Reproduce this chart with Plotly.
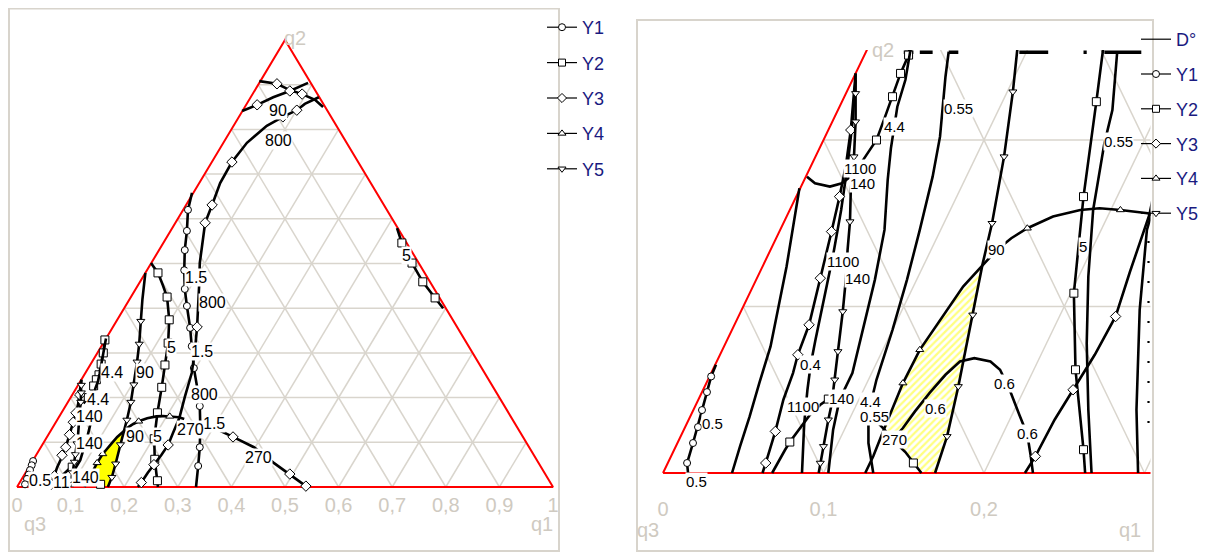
import plotly.graph_objects as go

FONT = "Liberation Sans, Arial, sans-serif"
GRAY = "#cfcac1"
NAVY = "#1a1a80"

# ---------------- data: contour lines (x = position on the 0..1 base scale, y = q2) -------------
Y1_15_X = [0.3265, 0.319, 0.317, 0.313, 0.312, 0.313, 0.317, 0.323, 0.326, 0.330, 0.336, 0.341, 0.342, 0.341, 0.338, 0.334]
Y1_15_Y = [0.658, 0.620, 0.573, 0.530, 0.485, 0.443, 0.405, 0.356, 0.315, 0.266, 0.224, 0.181, 0.134, 0.089, 0.047, 0.0]
Y1_15_M = [1, 2, 3, 4, 5, 6, 7, 8, 9, 11, 13, 14]

Y1_05_X = [0.033, 0.030, 0.0274, 0.0243, 0.0218, 0.0187, 0.015, 0.0156]
Y1_05_Y = [0.065, 0.058, 0.0486, 0.0378, 0.0276, 0.018, 0.006, 0.0]
Y1_05_M = [1, 2, 3, 4, 5, 6]

Y2_5A_X = [0.250, 0.263, 0.272, 0.280, 0.284, 0.282, 0.276, 0.274, 0.270, 0.262, 0.256, 0.257, 0.262, 0.263]
Y2_5A_Y = [0.501, 0.479, 0.452, 0.425, 0.374, 0.322, 0.273, 0.253, 0.223, 0.166, 0.108, 0.062, 0.014, 0.0]
Y2_5A_M = [1, 3, 4, 5, 6, 8, 9, 10, 11, 12]

Y2_5B_X = [0.709, 0.718, 0.737, 0.757, 0.780, 0.795]
Y2_5B_Y = [0.579, 0.546, 0.501, 0.459, 0.423, 0.400]
Y2_5B_M = [1, 2, 3, 4]

Y2_44_X = [0.164, 0.161, 0.157, 0.153, 0.148, 0.143, 0.138, 0.133, 0.128, 0.124]
Y2_44_Y = [0.329, 0.300, 0.275, 0.251, 0.240, 0.226, 0.213, 0.200, 0.193, 0.187]
Y2_44_M = [0, 1, 2, 3, 4, 5, 7]

Y2_270_X = [0.161, 0.156, 0.151, 0.1445, 0.138, 0.132, 0.126]
Y2_270_Y = [0.0, 0.006, 0.0126, 0.0186, 0.026, 0.032, 0.037]
Y2_270_M = [1]

Y2_LOW_X = [0.068, 0.0717, 0.076, 0.079, 0.0854, 0.0916, 0.098, 0.103, 0.1065]
Y2_LOW_Y = [0.0, 0.0066, 0.0138, 0.0186, 0.027, 0.035, 0.041, 0.0444, 0.046]
Y2_LOW_M = [3, 7]

Y3_90A_X = [0.452, 0.485, 0.509, 0.532, 0.556, 0.571]
Y3_90A_Y = [0.908, 0.902, 0.888, 0.879, 0.866, 0.850]
Y3_90A_M = [1, 3]

Y3_90B_X = [0.420, 0.448, 0.478, 0.509, 0.543]
Y3_90B_Y = [0.841, 0.855, 0.872, 0.886, 0.904]
Y3_90B_M = [1, 3]

Y3_800_X = [0.563, 0.537, 0.522, 0.496, 0.466, 0.429, 0.401, 0.379, 0.364, 0.351, 0.345, 0.341, 0.340,
            0.338, 0.336, 0.332, 0.326, 0.313, 0.303, 0.291, 0.282, 0.269, 0.2555, 0.244, 0.232, 0.2255]
Y3_800_Y = [0.872, 0.857, 0.843, 0.828, 0.808, 0.770, 0.727, 0.680, 0.631, 0.591, 0.537, 0.501, 0.456,
            0.412, 0.358, 0.306, 0.255, 0.201, 0.155, 0.121, 0.094, 0.071, 0.050, 0.032, 0.010, 0.0]
Y3_800_M = [2, 3, 6, 8, 9, 14, 20, 22, 24]

Y3_270_X = [0.332, 0.368, 0.403, 0.442, 0.479, 0.509, 0.539]
Y3_270_Y = [0.139, 0.132, 0.112, 0.089, 0.054, 0.029, 0.002]
Y3_270_M = [2, 5, 6]

Y3_1100_X = [0.120, 0.117, 0.114, 0.110, 0.105, 0.098, 0.091, 0.084, 0.081, 0.075, 0.070, 0.064, 0.062]
Y3_1100_Y = [0.240, 0.206, 0.185, 0.166, 0.145, 0.117, 0.089, 0.071, 0.060, 0.044, 0.025, 0.006, 0.0]
Y3_1100_M = [1, 3, 4, 5, 6, 7, 10, 11]

Y4_90_X = [0.126, 0.131, 0.138, 0.1495, 0.160, 0.177, 0.187, 0.1975, 0.208, 0.217, 0.227, 0.243, 0.260,
           0.272, 0.285, 0.302, 0.312]
Y4_90_Y = [0.0, 0.010, 0.027, 0.054, 0.074, 0.098, 0.112, 0.123, 0.134, 0.141, 0.147, 0.154, 0.158,
           0.159, 0.158, 0.156, 0.152]
Y4_90_M = [3, 4, 10, 14]

Y4_44_X = [0.166, 0.163, 0.158, 0.154, 0.151, 0.146, 0.142, 0.140, 0.138, 0.132, 0.1246, 0.118, 0.110, 0.106, 0.103]
Y4_44_Y = [0.332, 0.310, 0.280, 0.253, 0.236, 0.220, 0.195, 0.176, 0.146, 0.116, 0.086, 0.060, 0.044, 0.026, 0.0]
Y4_44_M = []

Y5_90_X = [0.2395, 0.234, 0.231, 0.228, 0.224, 0.2206, 0.218, 0.2125, 0.205, 0.199, 0.193, 0.184, 0.177, 0.1695]
Y5_90_Y = [0.479, 0.420, 0.371, 0.320, 0.280, 0.253, 0.229, 0.190, 0.150, 0.125, 0.095, 0.052, 0.022, 0.0]
Y5_90_M = [2, 3, 4, 6, 7, 8, 10, 11, 12]

Y5_140_X = [0.120, 0.120, 0.120, 0.119, 0.117, 0.1165, 0.115, 0.114, 0.112, 0.109, 0.107, 0.105, 0.103, 0.100, 0.098, 0.097]
Y5_140_Y = [0.240, 0.228, 0.211, 0.190, 0.170, 0.151, 0.134, 0.117, 0.097, 0.073, 0.056, 0.041, 0.032, 0.016, 0.006, 0.0]
Y5_140_M = [1, 2, 3, 5, 8, 9, 10, 12, 13, 14]

# desirability (D) contours, shown on the zoomed panel only
D_A_X = [0.085, 0.081, 0.077, 0.072, 0.067, 0.060, 0.054, 0.048, 0.043]
D_A_Y = [0.171, 0.148, 0.124, 0.100, 0.076, 0.054, 0.034, 0.016, 0.0]
D_ARC_X = [0.0897, 0.0947, 0.104, 0.1115, 0.118]
D_ARC_Y = [0.178, 0.174, 0.172, 0.174, 0.179]
D_04_X = [0.120, 0.118, 0.115, 0.111, 0.106, 0.100, 0.095, 0.092, 0.090, 0.088, 0.087, 0.0866]
D_04_Y = [0.236, 0.210, 0.185, 0.158, 0.131, 0.104, 0.080, 0.065, 0.050, 0.030, 0.014, 0.0]
D_055A_X = [0.178, 0.176, 0.1726, 0.168, 0.160, 0.152, 0.143, 0.133, 0.128, 0.128, 0.131]
D_055A_Y = [0.253, 0.238, 0.202, 0.178, 0.146, 0.116, 0.086, 0.056, 0.036, 0.018, 0.0]
D_055B_X = [0.283, 0.280, 0.275, 0.268, 0.265, 0.264, 0.265, 0.267]
D_055B_Y = [0.253, 0.218, 0.198, 0.158, 0.118, 0.078, 0.038, 0.0]
D_06_X = [0.143, 0.1495, 0.157, 0.166, 0.176, 0.185, 0.194, 0.204, 0.210, 0.216, 0.222, 0.227, 0.229, 0.2305]
D_06_Y = [0.020, 0.027, 0.037, 0.048, 0.059, 0.067, 0.069, 0.067, 0.062, 0.050, 0.035, 0.023, 0.011, 0.0]
D_EDGE_X = [0.296, 0.295, 0.297, 0.3015, 0.305]
D_EDGE_Y = [0.0, 0.038, 0.098, 0.146, 0.158]
# clipped pieces along the top border of the zoomed window
D_TOP_START = [0.150, 0.160, 0.178, 0.222, 0.262, 0.275]
D_TOP_END = [0.156, 0.168, 0.184, 0.240, 0.264, 0.298]
D_TOP_Q2 = 0.2527
D_RIGHT_X = 0.3025
D_RIGHT_Q2 = [0.03, 0.15]

# overlay (sweet spot) region
YEL_X = [0.138, 0.1495, 0.160, 0.177, 0.187, 0.1975, 0.199, 0.193, 0.184, 0.177, 0.1695, 0.161, 0.156, 0.151, 0.1445, 0.138]
YEL_Y = [0.027, 0.054, 0.074, 0.098, 0.112, 0.123, 0.125, 0.095, 0.052, 0.022, 0.0, 0.0, 0.006, 0.0126, 0.0186, 0.027]

# contour labels
L_LAB_TEXT = ['90', '800', '5', '1.5', '800', '5', '1.5', '800', '4.4', '90', '1.5', '270', '90', '5', '270',
              '4.4', '140', '140', '140', '11', '0.5']
L_LAB_X = [0.487, 0.487, 0.726, 0.334, 0.364, 0.289, 0.345, 0.349, 0.177, 0.239, 0.3675, 0.323, 0.220, 0.263, 0.450,
           0.151, 0.136, 0.136, 0.128, 0.083, 0.043]
L_LAB_Y = [0.843, 0.776, 0.519, 0.468, 0.412, 0.311, 0.304, 0.206, 0.257, 0.257, 0.141, 0.128, 0.114, 0.112, 0.065,
           0.195, 0.157, 0.098, 0.022, 0.011, 0.015]

R_LAB_TEXT = ['0.5', '0.5', '0.4', '1100', '140', '4.4', '0.55', '270', '0.6', '1100', '140', '1100', '140', '4.4',
              '0.55', '90', '0.6', '0.6', '5', '0.55']
R_LAB_X = [0.031, 0.021, 0.0916, 0.087, 0.1115, 0.129, 0.132, 0.144, 0.1695, 0.112, 0.121, 0.123, 0.1246, 0.1445,
           0.184, 0.2075, 0.213, 0.227, 0.2617, 0.2835]
R_LAB_Y = [0.030, -0.005, 0.065, 0.040, 0.045, 0.043, 0.034, 0.020, 0.039, 0.127, 0.117, 0.183, 0.174, 0.208,
           0.219, 0.134, 0.054, 0.024, 0.136, 0.199]

GRID_LEVELS = [0.1, 0.2, 0.3, 0.4, 0.5, 0.6, 0.7, 0.8, 0.9]
TICKS_L = [0, 0.1, 0.2, 0.3, 0.4, 0.5, 0.6, 0.7, 0.8, 0.9, 1]
TICKTEXT_L = ['0', '0,1', '0,2', '0,3', '0,4', '0,5', '0,6', '0,7', '0,8', '0,9', '1']
TICKS_R = [0, 0.1, 0.2]
TICKTEXT_R = ['0', '0,1', '0,2']

SERIES = ['Y1', 'Y2', 'Y3', 'Y4', 'Y5']
SYMBOL = {'Y1': 'circle', 'Y2': 'square', 'Y3': 'diamond', 'Y4': 'triangle-up', 'Y5': 'triangle-down'}
MSIZE = {'Y1': 7, 'Y2': 8, 'Y3': 8, 'Y4': 7, 'Y5': 7}

CONTOURS = [
    ('Y1', Y1_15_X, Y1_15_Y, Y1_15_M), ('Y1', Y1_05_X, Y1_05_Y, Y1_05_M),
    ('Y2', Y2_5A_X, Y2_5A_Y, Y2_5A_M), ('Y2', Y2_5B_X, Y2_5B_Y, Y2_5B_M),
    ('Y2', Y2_44_X, Y2_44_Y, Y2_44_M), ('Y2', Y2_270_X, Y2_270_Y, Y2_270_M),
    ('Y2', Y2_LOW_X, Y2_LOW_Y, Y2_LOW_M),
    ('Y3', Y3_90A_X, Y3_90A_Y, Y3_90A_M), ('Y3', Y3_90B_X, Y3_90B_Y, Y3_90B_M),
    ('Y3', Y3_800_X, Y3_800_Y, Y3_800_M), ('Y3', Y3_270_X, Y3_270_Y, Y3_270_M),
    ('Y3', Y3_1100_X, Y3_1100_Y, Y3_1100_M),
    ('Y4', Y4_90_X, Y4_90_Y, Y4_90_M), ('Y4', Y4_44_X, Y4_44_Y, Y4_44_M),
    ('Y5', Y5_90_X, Y5_90_Y, Y5_90_M), ('Y5', Y5_140_X, Y5_140_Y, Y5_140_M),
]
D_CONTOURS = [(D_A_X, D_A_Y), (D_ARC_X, D_ARC_Y), (D_04_X, D_04_Y), (D_055A_X, D_055A_Y),
              (D_055B_X, D_055B_Y), (D_06_X, D_06_Y), (D_EDGE_X, D_EDGE_Y)]

LINE_W = 2.6

# page geometry: the figure sits inside the default 8px body margin of the page
OFF = 8
W, H = 1199, 548


def PX(px):
    return (px - OFF) / W


def PY(py):
    return 1 - (py - OFF) / H


fig = go.Figure()


def grid_lines():
    xs, ys = [], []
    for c in GRID_LEVELS:
        for (x0, y0, x1, y1) in [(c / 2, c, 1 - c / 2, c), (c, 0, (1 + c) / 2, 1 - c), (1 - c, 0, (1 - c) / 2, 1 - c)]:
            xs += [x0, x1, None]
            ys += [y0, y1, None]
    return xs, ys


def join(parts):
    xs, ys = [], []
    for px, py in parts:
        xs += list(px) + [None]
        ys += list(py) + [None]
    return xs, ys


gx, gy = grid_lines()
for xa, ya in [('x', 'y'), ('x2', 'y2')]:
    fig.add_trace(go.Scatter(x=gx, y=gy, mode='lines', line=dict(color='#d9d5cd', width=1.5),
                             hoverinfo='skip', showlegend=False, xaxis=xa, yaxis=ya))
    if xa == 'x':
        fig.add_trace(go.Scatter(x=YEL_X, y=YEL_Y, mode='lines', fill='toself', fillcolor='#ffff00',
                                 line=dict(width=0), showlegend=False, xaxis=xa, yaxis=ya))
    else:
        fig.add_trace(go.Scatter(x=YEL_X, y=YEL_Y, mode='lines', fill='toself',
                                 fillpattern=dict(shape='/', fgcolor='#ffff00', bgcolor='white', size=5, solidity=0.45),
                                 line=dict(width=0), showlegend=False, xaxis=xa, yaxis=ya))
    fig.add_trace(go.Scatter(x=[0, 1, 0.5, 0], y=[0, 0, 1, 0], mode='lines', line=dict(color='red', width=2),
                             hoverinfo='skip', showlegend=False, xaxis=xa, yaxis=ya))
    if xa == 'x2':
        dx, dy = join(D_CONTOURS)
        fig.add_trace(go.Scatter(x=dx, y=dy, mode='lines', line=dict(color='black', width=LINE_W),
                                 showlegend=False, xaxis=xa, yaxis=ya))
        tx, ty = [], []
        for s, e in zip(D_TOP_START, D_TOP_END):
            tx += [s, e, None]
            ty += [D_TOP_Q2, D_TOP_Q2, None]
        fig.add_trace(go.Scatter(x=tx, y=ty, mode='lines', line=dict(color='black', width=3.5),
                                 showlegend=False, xaxis=xa, yaxis=ya))
        fig.add_trace(go.Scatter(x=[D_RIGHT_X, D_RIGHT_X], y=D_RIGHT_Q2, mode='lines',
                                 line=dict(color='black', width=2.2, dash='2px,18px'),
                                 showlegend=False, xaxis=xa, yaxis=ya))
    for s in SERIES:
        parts = [(cx, cy) for (n, cx, cy, m) in CONTOURS if n == s]
        lx, ly = join(parts)
        fig.add_trace(go.Scatter(x=lx, y=ly, mode='lines', line=dict(color='black', width=LINE_W),
                                 showlegend=False, xaxis=xa, yaxis=ya))
        mx = [cx[i] for (n, cx, cy, m) in CONTOURS if n == s for i in m]
        my = [cy[i] for (n, cx, cy, m) in CONTOURS if n == s for i in m]
        fig.add_trace(go.Scatter(x=mx, y=my, mode='markers',
                                 marker=dict(symbol=SYMBOL[s], size=MSIZE[s], color='white',
                                             line=dict(color='black', width=1)),
                                 showlegend=False, xaxis=xa, yaxis=ya))

# legends
fig.add_trace(go.Scatter(x=[None], y=[None], mode='lines', name='D°', legend='legend2', legendgroup='RD',
                         line=dict(color='black', width=1.2)))
for s in SERIES:
    for lg, grp in [('legend', 'L'), ('legend2', 'R')]:
        fig.add_trace(go.Scatter(x=[None], y=[None], mode='lines+markers', name=s, legend=lg,
                                 legendgroup=grp + s,
                                 line=dict(color='black', width=1.2),
                                 marker=dict(symbol=SYMBOL[s], size=7, color='white',
                                             line=dict(color='black', width=1))))

for t, x, y in zip(L_LAB_TEXT, L_LAB_X, L_LAB_Y):
    fig.add_annotation(x=x, y=y, xref='x', yref='y', text=t, showarrow=False, bgcolor='white', borderpad=0,
                       font=dict(size=16, color='black', family=FONT))
for t, x, y in zip(R_LAB_TEXT, R_LAB_X, R_LAB_Y):
    fig.add_annotation(x=x, y=y, xref='x2', yref='y2', text=t, showarrow=False, bgcolor='white', borderpad=0,
                       font=dict(size=15, color='black', family=FONT))

for txt, px, py in [('q2', 282, 25), ('q3', 22, 537), ('q1', 542, 537),
                    ('q2', 896, 37), ('q3', 648, 543), ('q1', 1143, 543)]:
    fig.add_annotation(x=PX(px), y=PY(py), xref='paper', yref='paper', text=txt, showarrow=False,
                       font=dict(size=20, color=GRAY, family=FONT))

fig.add_shape(type='rect', xref='paper', yref='paper', x0=PX(9), x1=PX(559), y0=PY(551), y1=PY(8.5),
              line=dict(color='#d8d4cc', width=2))
fig.add_shape(type='rect', xref='paper', yref='paper', x0=PX(637), x1=PX(1153), y0=PY(551), y1=PY(20),
              line=dict(color='#d8d4cc', width=2))

axis_common = dict(showgrid=False, zeroline=False, showline=False, ticks='', tickmode='array',
                   tickfont=dict(size=20, color=GRAY, family=FONT), fixedrange=True)
fig.update_layout(
    width=W, height=H, margin=dict(l=0, r=0, t=0, b=0, autoexpand=False),
    paper_bgcolor='white', plot_bgcolor='white',
    xaxis=dict(domain=[PX(9), PX(559)], range=[(9 - 17) / 536, (559 - 17) / 536], anchor='free',
               position=PY(491), tickvals=TICKS_L, ticktext=TICKTEXT_L, **axis_common),
    yaxis=dict(domain=[PY(551), PY(8)], range=[(487 - 551) / 447, (487 - 8) / 447], visible=False, anchor='x'),
    xaxis2=dict(domain=[PX(640), PX(1150.5)], range=[(640 - 663) / 1605, (1150.5 - 663) / 1605], anchor='free',
                position=PY(495), tickvals=TICKS_R, ticktext=TICKTEXT_R, **axis_common),
    yaxis2=dict(domain=[PY(500), PY(50)], range=[(473 - 500) / 1665, (473 - 50) / 1665], visible=False,
                anchor='x2'),
    legend=dict(x=PX(542), y=PY(9), xanchor='left', yanchor='top', itemwidth=30, tracegroupgap=9,
                font=dict(size=18, color=NAVY, family=FONT), bgcolor='rgba(0,0,0,0)'),
    legend2=dict(x=PX(1136), y=PY(21), xanchor='left', yanchor='top', itemwidth=30, tracegroupgap=8.4,
                 font=dict(size=18, color=NAVY, family=FONT), bgcolor='rgba(0,0,0,0)'),
)

fig.write_html("out.html")
